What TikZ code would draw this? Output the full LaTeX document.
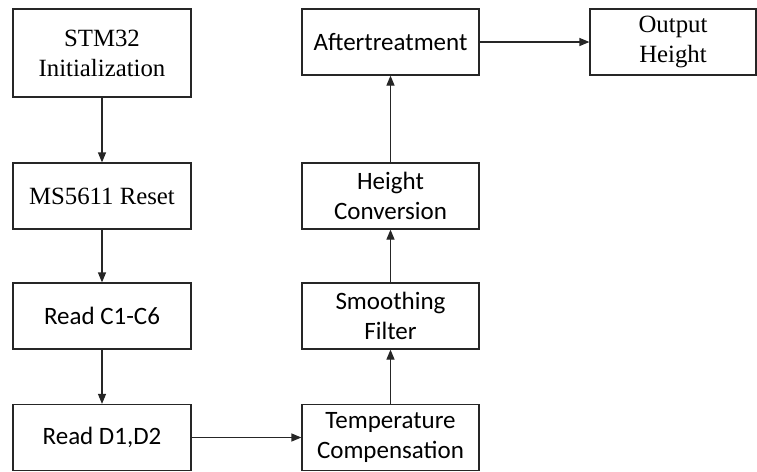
\documentclass[tikz,border=0pt]{standalone}
\usepackage{fontspec}
\setmainfont{Liberation Serif}
\newfontfamily\calibri{Carlito}
\usetikzlibrary{arrows.meta}

\tikzset{
  box/.style={draw=black!85,line width=0.6pt,align=center,inner sep=1pt,
    minimum width=89pt,minimum height=33pt,font=\fontsize{12.4}{15}\selectfont},
  sbox/.style={box,font=\calibri\fontsize{12.5}{15}\selectfont},
  flow/.style={draw=black!85,line width=0.6pt,-{Triangle[length=5pt,width=4pt]}}
}

\begin{document}
\begin{tikzpicture}[x=0.5pt,y=-0.5pt]
    \useasboundingbox (0,0) rectangle (757,472);
    \node[box,minimum height=44pt] (init) at (102,53) {STM32\\Initialization};
    \node[box] (reset) at (102,196) {MS5611 Reset};
    \node[sbox] (readc) at (102,316) {Read C1-C6};
    \node[sbox] (readd) at (102,437.5) {Read D1,D2};
    \node[sbox,minimum width=88.5pt] (temp) at (390.5,437.5) {Temperature\\Compensation};
    \node[sbox,minimum width=88.5pt] (smooth) at (390.5,316) {Smoothing\\Filter};
    \node[sbox,minimum width=88.5pt] (conv) at (390.5,196) {Height\\Conversion};
    \node[sbox,minimum width=88.5pt] (after) at (390.5,42) {Aftertreatment};
    \node[box,minimum width=83pt] (out) at (673,42) {Output\\Height};
    \draw[flow] (init) -- (reset);
    \draw[flow] (reset) -- (readc);
    \draw[flow] (readc) -- (readd);
    \draw[flow] (readd) -- (temp);
    \draw[flow] (temp) -- (smooth);
    \draw[flow] (smooth) -- (conv);
    \draw[flow] (conv) -- (after);
    \draw[flow] (after) -- (out);
  \end{tikzpicture}
\end{document}
